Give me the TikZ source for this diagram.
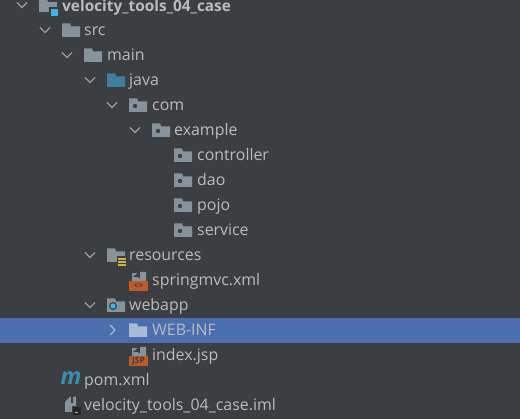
\documentclass[tikz,border=0pt]{standalone}
\usepackage{fontspec}
\setmainfont{Open Sans}
\usetikzlibrary{positioning}
\definecolor{panelbg}{HTML}{3C3F41}
\definecolor{rowsel}{HTML}{4B6EAF}
\definecolor{treetxt}{HTML}{BBBBBB}
\definecolor{foldergray}{HTML}{87939A}
\definecolor{folderjava}{HTML}{3F7F9C}
\definecolor{folderlight}{HTML}{A9BAD3}
\definecolor{mavenblue}{HTML}{3A8FB0}
\definecolor{dotblue}{HTML}{3DB5E6}
\definecolor{xmlorange}{HTML}{C05A28}
\definecolor{resyellow}{HTML}{D3AE4E}
\tikzset{lbl/.style={anchor=base west,inner sep=0pt,text=treetxt,font=\fontsize{15.9}{18}\selectfont},
 chev/.style={draw=#1,line width=1.3pt,fill=none},
 chev/.default=treetxt!75!panelbg,
 pics/folder/.style={code={
  \fill[#1] (0,-6.5) -- (8,-6.5) -- (9,-3.5) -- (18,-3.5) -- (18,7) -- (0,7) -- cycle;}},
 pics/pkg/.style={code={
  \fill[foldergray] (0,-6.5) -- (8,-6.5) -- (9,-3.5) -- (18,-3.5) -- (18,7) -- (0,7) -- cycle;
  \fill[panelbg] (6,1) circle (2.2);}},
 pics/down/.style={code={
  \draw[chev] (-5,-2.5) -- (0,2.5) -- (5,-2.5);}},
 pics/page/.style={code={
  \fill[foldergray] (3,-8) -- (3,-2) -- (9,-2) -- (9,-8) -- cycle;
  \fill[foldergray] (11,-9) -- (17,-9) -- (17,0) -- (3,0) -- (3,-3) -- (11,-3) -- cycle;
  \fill[panelbg] (4,-4) -- (10,-4) -- (10,-9) -- cycle;}}
}
\begin{document}
\begin{tikzpicture}[x=1pt,y=-1pt]
\useasboundingbox (0,0) rectangle (520,419);
\fill[panelbg] (0,0) rectangle (520,419);
\fill[rowsel] (0,318) rectangle (520,343);

% open arrows
\foreach \x/\y in {22/5,45/30,67/55,90/80,112/105,135/130,90/255,90/305}
  {
 \pic at (\x,\y) {down};
 }
\draw[chev=folderlight] (110,325) -- (115,330) -- (110,335);

% plain folders
\foreach \x/\y in {62/30,84/55}
  {
 \pic at (\x,\y) {folder=foldergray};
 }
\pic at (107,80) {folder=folderjava};
\pic at (129,330) {folder=folderlight};

% packages
\foreach \x/\y in {129/105,152/130,174/155,174/180,174/205,174/230}
  {
 \pic at (\x,\y) {pkg};
 }

% project
\fill[foldergray] (39,-1) -- (47,-1) -- (48,2) -- (57,2) -- (57,12) -- (39,12) -- cycle;
\fill[panelbg] (49,7) rectangle (59,17);
\fill[dotblue] (51,9) rectangle (58,16);

% resources
\pic at (107,255) {folder=foldergray};
\fill[panelbg] (117,256) rectangle (127,268);
\foreach \y in {258,261,264}
  {
 \fill[resyellow] (118,\y) rectangle (126,\y+2);
 }

% webapp
\pic at (107,305) {folder=foldergray};
\fill[panelbg] (113,306) circle (4);
\fill[dotblue] (113,306) circle (2.7);

% files
\pic at (129,281) {page};
\fill[xmlorange] (129,281) rectangle (148,291);
\node[inner sep=0pt,text=panelbg,font=\fontsize{8.5}{8.5}\selectfont\bfseries] (xmltag) at (138.5,285.5) {<>};
\pic at (129,356) {page};
\fill[xmlorange] (129,356) rectangle (148,366);
\node[inner sep=0pt,text=panelbg,font=\fontsize{8.5}{8.5}\selectfont\bfseries] (jsptag) at (138.5,361) {JSP};

% pom and iml
\node[inner sep=0pt,text=mavenblue,font=\fontsize{23}{23}\selectfont\bfseries\itshape] (pomicon) at (71,378) {m};
\fill[foldergray] (65,402) -- (65,412) -- (76,412) -- (76,397) -- (70,397) -- cycle;
\fill[panelbg] (71,396) rectangle (73,403);
\fill[panelbg] (72,406) rectangle (82,416);
\fill[black!85] (73,407) rectangle (81,415);
\fill[treetxt] (75,412) rectangle (78,413);

% labels
\node[lbl,font=\fontsize{15.4}{18}\selectfont\bfseries] (project) at (62,12) {velocity\_tools\_04\_case};
\foreach \name/\x/\y/\txt in {src/84/36/src,main/107/61/main,java/129/86/java,com/152/111/com,
  example/174/136/example,controller/197/161/controller,dao/197/186/dao,pojo/197/211/pojo,
  service/197/236/service,resources/129/261/resources,springmvc/152/286/springmvc.xml,
  webapp/129/311/webapp,webinf/152/336/WEB-INF,index/152/361/index.jsp,pom/84/386/pom.xml,
  iml/84/411/velocity\_tools\_04\_case.iml}
  {
 \node[lbl] (\name) at (\x,\y) {\txt};
 }

\end{tikzpicture}
\end{document}
